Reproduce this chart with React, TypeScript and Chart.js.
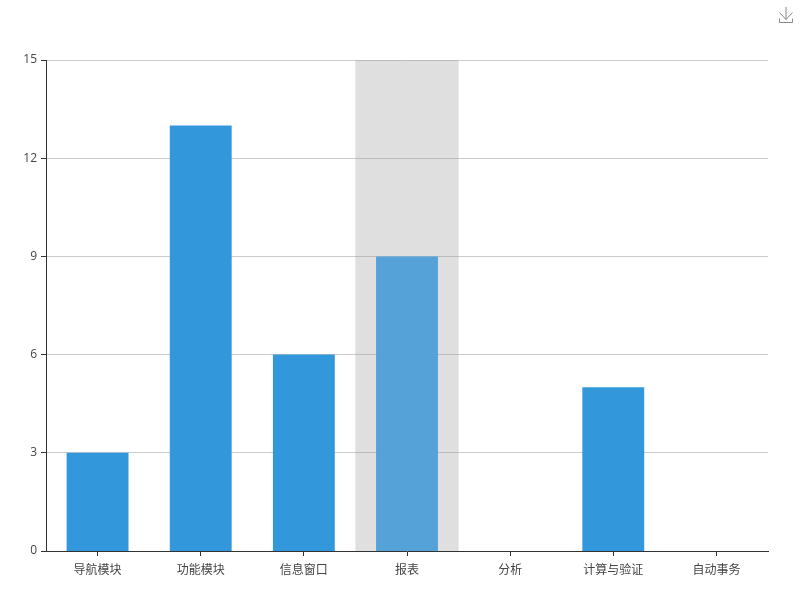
import React, { useEffect, useRef } from "react";
import { Chart, registerables } from "chart.js";

Chart.register(...registerables);

const categories = ["导航模块", "功能模块", "信息窗口", "报表", "分析", "计算与验证", "自动事务"];
const values = [3, 13, 6, 9, 0, 5, 0];
const highlightedIndex = 3;
const barColor = "#3398DB";
const highlightedBarColor = "#54A2D8";
const yMax = 15;
const yStep = 3;
const FONT = "'Noto Sans CJK SC', 'Noto Sans', sans-serif";
const NUMBER_FONT = "'Open Sans', 'Noto Sans', sans-serif";

const bandPlugin = {
  id: "band",
  beforeDatasetsDraw(chart: any) {
    const { ctx, chartArea, scales } = chart;
    const step = chartArea.width / categories.length;
    const cx = scales.x.getPixelForValue(highlightedIndex);
    ctx.save();
    ctx.fillStyle = "rgba(150,150,150,0.3)";
    ctx.fillRect(cx - step / 2, chartArea.top, step, chartArea.height);
    ctx.restore();
  },
};

export default function App() {
  const ref = useRef<HTMLCanvasElement>(null);
  useEffect(() => {
    const chart = new Chart(ref.current as HTMLCanvasElement, {
      type: "bar",
      data: {
        labels: categories,
        datasets: [
          {
            data: values,
            backgroundColor: values.map((_, i) => (i === highlightedIndex ? highlightedBarColor : barColor)),
            barPercentage: 0.6,
            categoryPercentage: 1,
          },
        ],
      },
      options: {
        animation: false,
        responsive: false,
        layout: { padding: { top: 60, right: 32, left: 0, bottom: 0 } },
        plugins: { legend: { display: false }, tooltip: { enabled: false } },
        scales: {
          x: {
            afterFit(scale: any) {
              scale.height = 49;
            },
            grid: { offset: false, drawOnChartArea: false, drawTicks: true, tickLength: 5, tickColor: "#333", color: "#333" },
            border: { color: "#333", width: 1 },
            ticks: { color: "#444", font: { family: FONT, size: 12 }, padding: 6, maxRotation: 0, autoSkip: false },
          },
          y: {
            min: 0,
            max: yMax,
            afterFit(scale: any) {
              scale.width = 46;
            },
            grid: {
              color: "#ccc",
              tickColor: "#333",
              tickLength: 5,
              tickWidth: 1,
              lineWidth: (ctx: any) => (ctx.tick && ctx.tick.value === 0 ? 0.01 : 1),
            },
            border: { color: "#333", width: 1 },
            ticks: { stepSize: yStep, color: "#444", font: { family: NUMBER_FONT, size: 12 }, padding: 4 },
          },
        },
      },
      plugins: [bandPlugin],
    } as any);
    return () => chart.destroy();
  }, []);
  return (
    <div style={{ position: "fixed", left: 0, top: 0, width: 800, height: 600, background: "#fff" }}>
      <canvas ref={ref} width={800} height={600} style={{ display: "block" }} />
      <svg
        width="14"
        height="16"
        viewBox="0 0 14 16"
        style={{ position: "absolute", left: 779, top: 7 }}
        fill="none"
        stroke="#888"
        strokeWidth="1"
      >
        <path d="M7 0V12.5M0.5 5.5L7 12.5L13.5 5.5M0.5 11.5V15.5H13.5V11.5" />
      </svg>
    </div>
  );
}
